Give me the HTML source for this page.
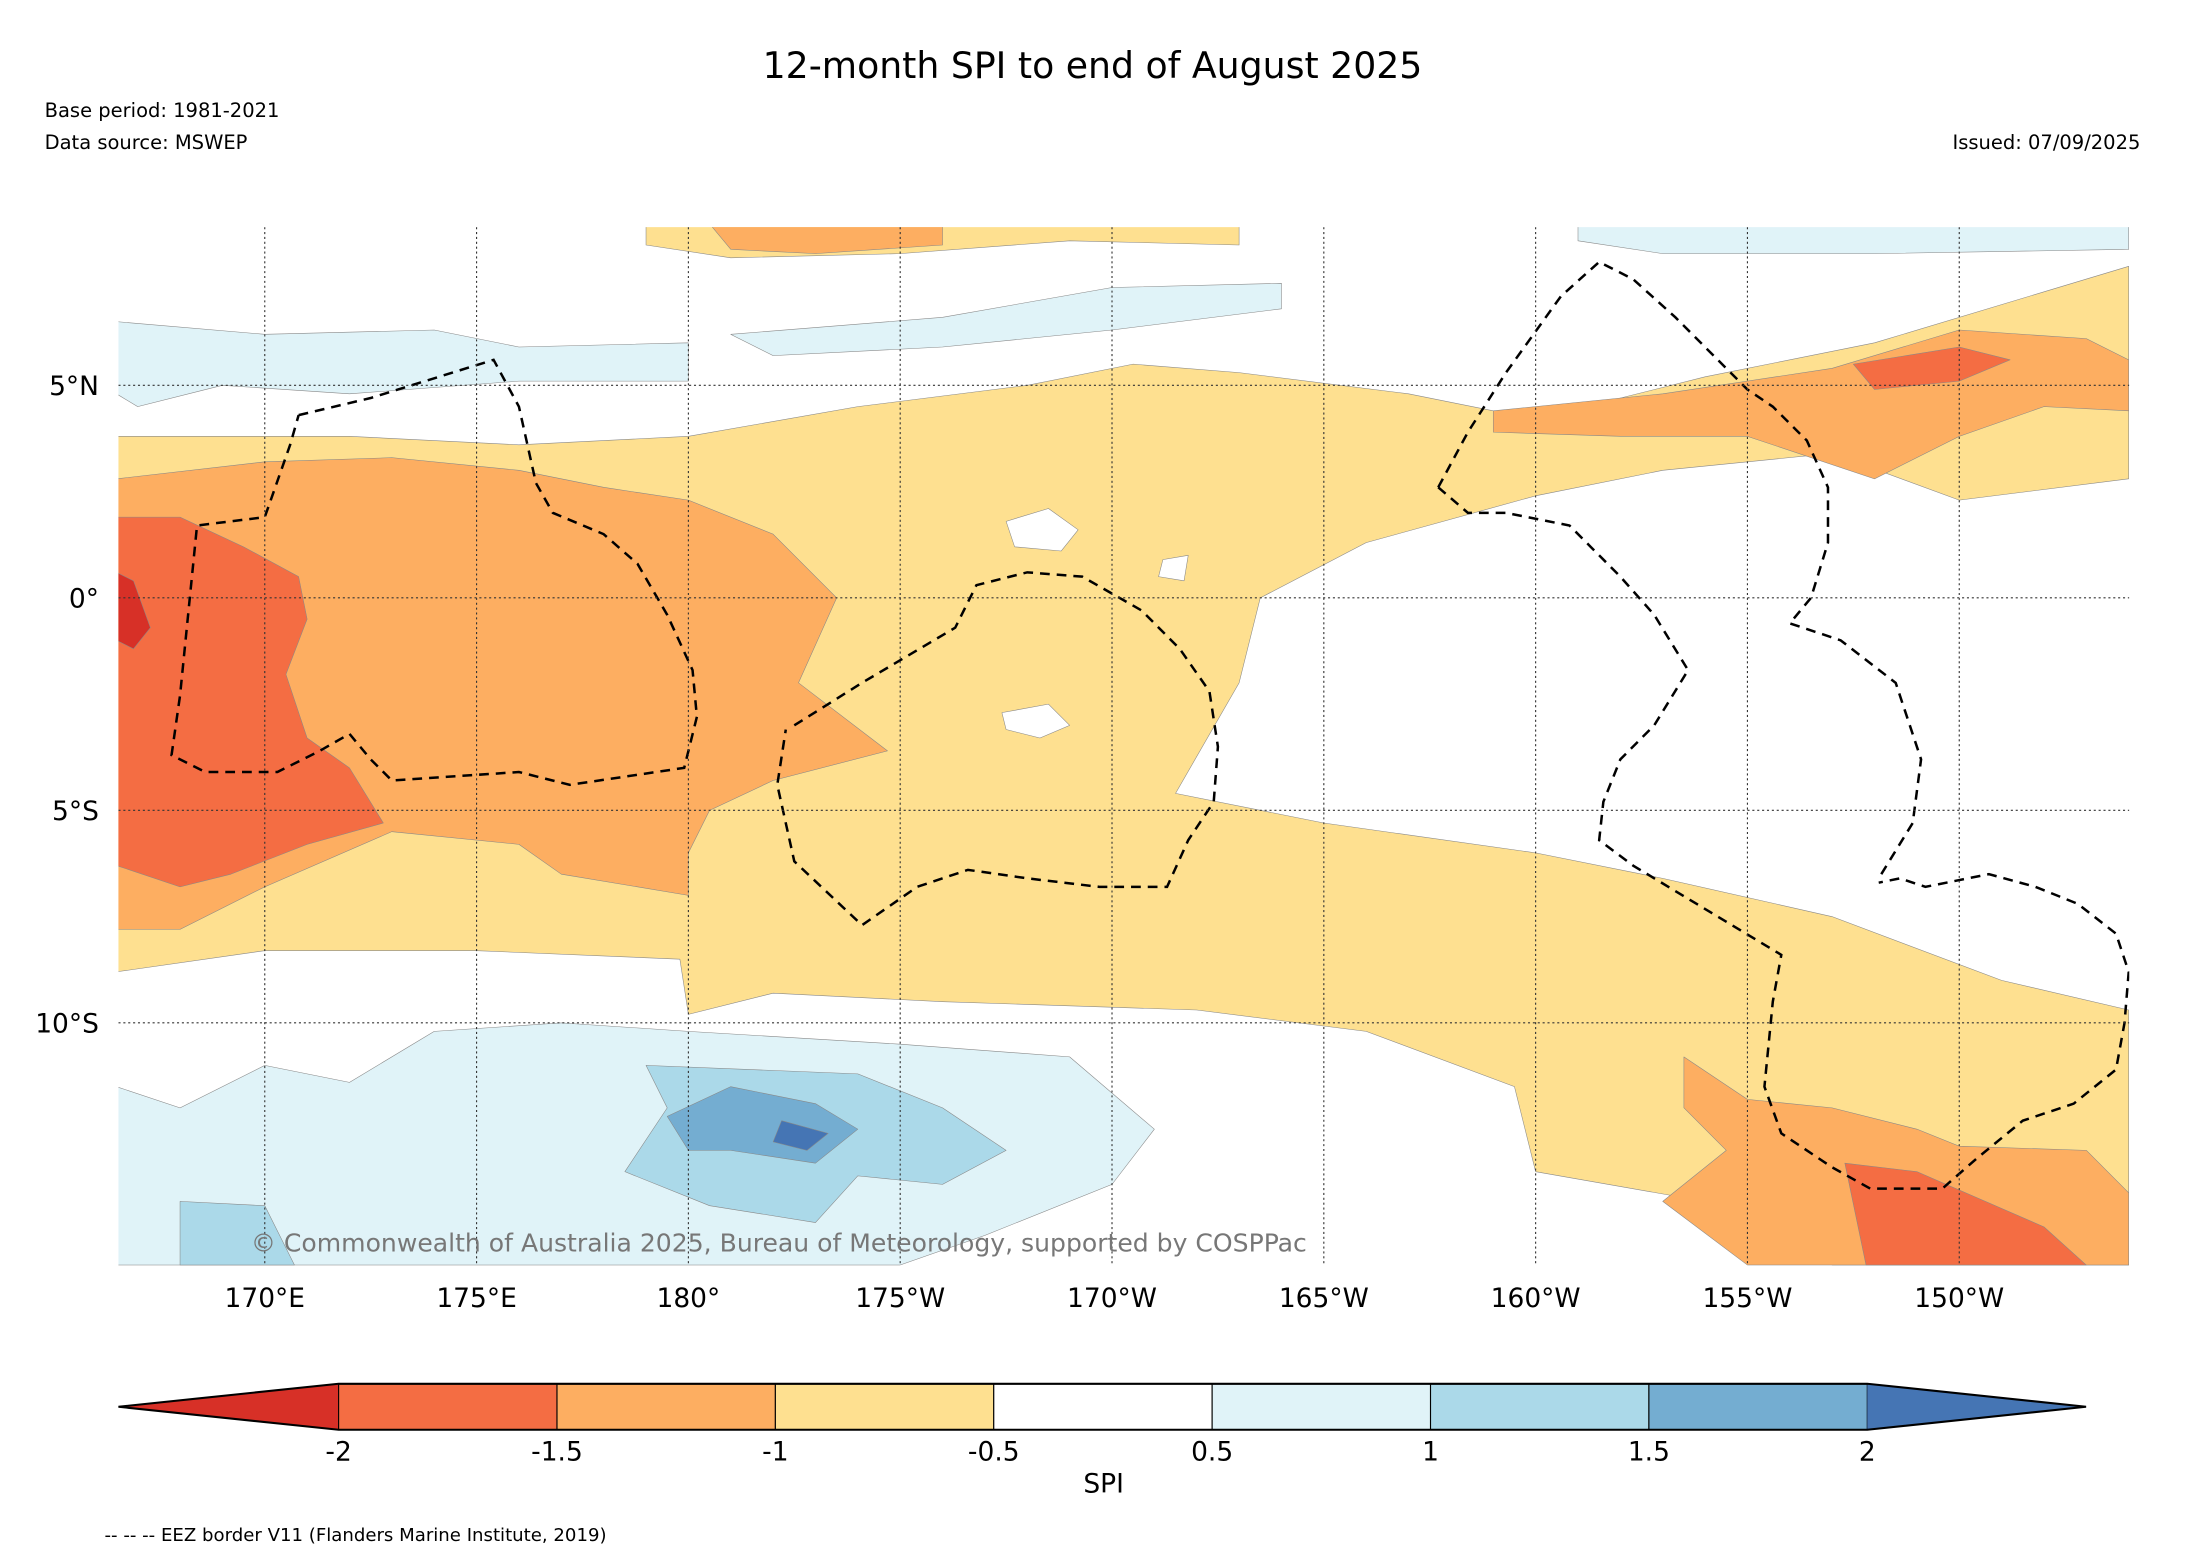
<!DOCTYPE html>
<html><head><meta charset="utf-8"><style>
html,body{margin:0;padding:0;background:#fff;}
svg{display:block;font-family:"DejaVu Sans","Liberation Sans",sans-serif;}
</style></head><body>
<svg id="chart" width="2185" height="1563" viewBox="0 0 1568 1121.6" xmlns="http://www.w3.org/2000/svg">
<rect width="1568" height="1121.6" fill="#fff"/>
<text x="784" y="56" font-size="26" text-anchor="middle">12-month SPI to end of August 2025</text>
<text x="32" y="84" font-size="14">Base period: 1981-2021</text>
<text x="32" y="107" font-size="14">Data source: MSWEP</text>
<text x="1536" y="107" font-size="14" text-anchor="end">Issued: 07/09/2025</text>
<defs><clipPath id="mapclip"><rect x="85" y="163" width="1443" height="745"/></clipPath></defs>
<g id="map" clip-path="url(#mapclip)"></g>
<g id="axes"></g>
<g id="cbar"></g>
<text x="792" y="1071" font-size="19" text-anchor="middle">SPI</text>
<text x="75" y="1106" font-size="13">-- -- -- EEZ border V11 (Flanders Marine Institute, 2019)</text>
</svg>
<script>
const levels = [-2, -1.5, -1, -0.5, 0.5, 1, 1.5, 2];
const levelLabels = ["-2","-1.5","-1","-0.5","0.5","1","1.5","2"];
const binColors = ["#d73027","#f46d43","#fdae61","#fee090","#ffffff","#e0f3f8","#abd9e9","#74add1","#4575b4"];
const lonTicks = [170,175,180,185,190,195,200,205,210];
const lonLabels = ["170°E","175°E","180°","175°W","170°W","165°W","160°W","155°W","150°W"];
const latTicks = [5,0,-5,-10];
const latLabels = ["5°N","0°","5°S","10°S"];

const fieldYellow = [[166.5,3.8],[172,3.8],[176,3.6],[180,3.8],[184,4.5],[188,5],[190.5,5.5],[193,5.3],[197,4.8],[200,4.2],[204,5.2],[208,6],[212,7.2],[214,7.8],[214,2.8],[210,2.3],[207,3.4],[203,3],[200,2.4],[196,1.3],[193.5,0],[193,-2],[191.5,-4.6],[195,-5.3],[200,-6],[203,-6.6],[207,-7.5],[211,-9],[214,-9.7],[214,-15.7],[207,-15.7],[204,-14.2],[200,-13.5],[199.5,-11.5],[196,-10.2],[192,-9.7],[186,-9.5],[182,-9.3],[180,-9.8],[179.8,-8.5],[175,-8.3],[170,-8.3],[166.5,-8.8]];
const fieldOrange = [[166.5,2.8],[170,3.2],[173,3.3],[176,3],[178,2.6],[180,2.3],[182,1.5],[183.5,0],[182.6,-2],[184.7,-3.6],[182,-4.3],[180.5,-5],[180,-6],[180,-7],[177,-6.5],[176,-5.8],[173,-5.5],[170,-6.8],[168,-7.8],[166.5,-7.8]];
const fieldRed = [[166.5,1.9],[168,1.9],[169.5,1.2],[170.8,0.5],[171,-0.5],[170.5,-1.8],[171,-3.3],[172,-4],[172.8,-5.3],[171,-5.8],[169.2,-6.5],[168,-6.8],[166.5,-6.3]];
const fieldDarkRed = [[166.5,0.6],[166.9,0.4],[167.3,-0.7],[166.9,-1.2],[166.5,-1]];
const fieldNEOrange = [[199,4.4],[203,4.8],[207,5.4],[210,6.3],[213,6.1],[214,5.6],[214,4.4],[212,4.5],[210,3.8],[208,2.8],[205,3.8],[202,3.8],[199,3.9]];
const fieldNERed = [[207.5,5.5],[210,5.9],[211.2,5.6],[210,5.1],[208,4.9]];
const fieldSEOrange = [[203.5,-10.8],[205,-11.8],[207,-12],[209,-12.5],[210,-12.9],[213,-13],[214,-14],[214,-15.7],[205,-15.7],[203,-14.2],[204.5,-13],[203.5,-12]];
const fieldSERed = [[207.3,-13.3],[209,-13.5],[212,-14.8],[213,-15.7],[207.8,-15.7]];
const fieldTopYellow = [[179,8.8],[193,8.8],[193,8.3],[189,8.4],[185,8.1],[181,8.0],[179,8.3]];
const fieldTopOrange = [[180.5,8.8],[186,8.8],[186,8.3],[183,8.1],[181,8.2]];
const fieldBlueN1 = [[166.5,6.5],[170,6.2],[174,6.3],[176,5.9],[180,6.0],[180,5.1],[176,5.1],[172,4.8],[169,5],[167,4.5],[166.5,4.8]];
const fieldBlueN2 = [[181,6.2],[186,6.6],[190,7.3],[194,7.4],[194,6.8],[190,6.3],[186,5.9],[182,5.7]];
const fieldBlueN3 = [[201,8.8],[214,8.8],[214,8.2],[208,8.1],[203,8.1],[201,8.4]];
const fieldBlueS = [[166.5,-11.5],[168,-12],[170,-11],[172,-11.4],[174,-10.2],[177,-10],[180,-10.2],[185,-10.5],[189,-10.8],[191,-12.5],[190,-13.8],[187,-15],[185,-15.7],[166.5,-15.7]];
const fieldMedBlue = [[179,-11],[184,-11.2],[186,-12],[187.5,-13],[186,-13.8],[184,-13.6],[183,-14.7],[180.5,-14.3],[178.5,-13.5],[179.5,-12]];
const fieldBlueDark = [[179.5,-12.2],[181,-11.5],[183,-11.9],[184,-12.5],[183,-13.3],[181,-13],[180,-13]];
const fieldBlueDeep = [[182.2,-12.3],[183.3,-12.6],[182.8,-13],[182,-12.8]];
const fieldSWMed = [[168,-14.2],[170,-14.3],[170.7,-15.7],[168,-15.7]];
const fieldWhiteA = [[187.5,1.8],[188.5,2.1],[189.2,1.6],[188.8,1.1],[187.7,1.2]];
const fieldWhiteB = [[187.4,-2.7],[188.5,-2.5],[189,-3],[188.3,-3.3],[187.5,-3.1]];
const fieldWhiteC = [[191.2,0.9],[191.8,1.0],[191.7,0.4],[191.1,0.5]];
const fieldSouthYellow1 = [[171.2,-12.4],[174,-12.2],[174.5,-13.4],[171.5,-13.7]];
const fieldSouthYellow2 = [[175,-12.8],[177.5,-12.7],[177.3,-14],[175,-14.3]];
const regions = [
 [3,fieldYellow],[3,fieldTopYellow],[3,fieldSouthYellow1],[3,fieldSouthYellow2],
 [2,fieldOrange],[1,fieldRed],[0,fieldDarkRed],[2,fieldNEOrange],[1,fieldNERed],
 [2,fieldSEOrange],[1,fieldSERed],[2,fieldTopOrange],
 [5,fieldBlueN1],[5,fieldBlueN2],[5,fieldBlueN3],[5,fieldBlueS],[6,fieldMedBlue],
 [7,fieldBlueDark],[8,fieldBlueDeep],[6,fieldSWMed],
 [4,fieldWhiteA],[4,fieldWhiteB],[4,fieldWhiteC]
];
const eez = [
 [[170.8,4.3],[172.5,4.7],[175.4,5.6],[176,4.5],[176.4,2.7],[176.8,2],[178,1.5],[178.8,0.8],[179.5,-0.4],[180.1,-1.7],[180.2,-2.8],[179.9,-4],[177.2,-4.4],[176,-4.1],[173,-4.3],[172.5,-3.8],[172,-3.2],[171.3,-3.6],[170.3,-4.1],[168.6,-4.1],[167.8,-3.7],[168,-2.3],[168.4,1.7],[170,1.9],[170.6,3.6],[170.8,4.3]],
 [[182.5,-3],[184.1,-2],[186.3,-0.7],[186.8,0.3],[188,0.6],[189.3,0.5],[190.7,-0.3],[191.6,-1.2],[192.3,-2.2],[192.5,-3.5],[192.4,-4.8],[191.8,-5.7],[191.3,-6.8],[189.7,-6.8],[188,-6.6],[186.6,-6.4],[185.4,-6.8],[184.1,-7.7],[182.5,-6.2],[182.1,-4.4],[182.3,-3.1]],
 [[197.7,2.6],[198.4,3.9],[199.3,5.3],[200.6,7.1],[201.5,7.9],[202.3,7.5],[203.3,6.6],[204.5,5.4],[205,4.9],[205.6,4.5],[206.4,3.7],[206.9,2.6],[206.9,1.3],[206.5,0],[206,-0.6],[207.2,-1],[208.5,-2],[209.1,-3.8],[208.9,-5.3],[208.1,-6.6]],
 [[197.7,2.6],[198.4,2],[199.3,2],[200.8,1.7],[201.3,1.2],[202,0.5],[202.8,-0.4],[203.6,-1.7],[202.8,-3],[202,-3.8],[201.6,-4.8],[201.5,-5.7],[202.3,-6.3],[203.8,-7.2],[205.8,-8.4],[205.6,-9.5],[205.5,-10.5],[205.4,-11.5],[205.8,-12.6],[207,-13.4],[207.9,-13.9],[209.6,-13.9],[210.4,-13.2],[211.5,-12.3],[212.7,-11.9],[213.7,-11.1],[213.9,-10],[214,-8.8],[213.7,-7.9],[212.8,-7.2],[211.8,-6.8],[210.7,-6.5],[209.2,-6.8],[208.6,-6.6],[208.1,-6.7]]
];

const NS="http://www.w3.org/2000/svg";
const X = lon => 190 + (lon-170)*30.4;
const Y = lat => 429 - lat*30.5;
function el(tag, attrs, parent){const e=document.createElementNS(NS,tag);for(const k in attrs)e.setAttribute(k,attrs[k]);parent.appendChild(e);return e;}
const map=document.getElementById('map'), axes=document.getElementById('axes'), cbar=document.getElementById('cbar');

el('rect',{x:85,y:163,width:1443,height:745,fill:'#fff'},map);
regions.forEach(r=>{
  const p=el('polygon',{points:r[1].map(q=>X(q[0]).toFixed(1)+','+Y(q[1]).toFixed(1)).join(' '),fill:binColors[r[0]],stroke:'#888','stroke-width':0.4,'stroke-linejoin':'round'},map);
  
  
});
eez.forEach(line=>{
  const p=el('polyline',{points:line.map(q=>X(q[0]).toFixed(1)+','+Y(q[1]).toFixed(1)).join(' '),fill:'none',stroke:'#000','stroke-width':1.8,'stroke-dasharray':'7,5'},map);
  
  
});
lonTicks.forEach((lon,i)=>{
  const g=el('line',{x1:X(lon),x2:X(lon),y1:163,y2:908,stroke:'#333','stroke-width':0.8,'stroke-dasharray':'1.5,2'},map);
  
  
  const t=el('text',{x:X(lon),y:938,'font-size':19,'text-anchor':'middle'},axes);
  t.textContent=lonLabels[i];
  
  
});
latTicks.forEach((lat,i)=>{
  const g=el('line',{x1:85,x2:1528,y1:Y(lat),y2:Y(lat),stroke:'#333','stroke-width':0.8,'stroke-dasharray':'1.5,2'},map);
  
  
  const t=el('text',{x:71,y:Y(lat)+7,'font-size':19,'text-anchor':'end'},axes);
  t.textContent=latLabels[i];
  
  
});
const cp=el('text',{x:180,y:898,'font-size':18,fill:'#777'},map);
cp.textContent='© Commonwealth of Australia 2025, Bureau of Meteorology, supported by COSPPac';



// colorbar: equal-width bins (boundary index based)
const cx0=243, cx1=1340, cy0=993, cy1=1026;
const CXi = i => cx0 + i/(levels.length-1)*(cx1-cx0);
const lt=el('polygon',{points:`85,${(cy0+cy1)/2} ${cx0},${cy0} ${cx0},${cy1}`,fill:binColors[0]},cbar);


for(let i=0;i<levels.length-1;i++){
  const r=el('rect',{x:CXi(i),y:cy0,width:CXi(i+1)-CXi(i),height:cy1-cy0,fill:binColors[i+1],stroke:'#000','stroke-width':0.8},cbar);
  
  
}
const rt=el('polygon',{points:`1497,${(cy0+cy1)/2} ${cx1},${cy0} ${cx1},${cy1}`,fill:binColors[8]},cbar);


el('polygon',{points:`85,${(cy0+cy1)/2} ${cx0},${cy0} ${cx1},${cy0} 1497,${(cy0+cy1)/2} ${cx1},${cy1} ${cx0},${cy1}`,fill:'none',stroke:'#000','stroke-width':1.5},cbar);
levels.forEach((v,i)=>{
  const t=el('text',{x:CXi(i),y:1048,'font-size':19,'text-anchor':'middle'},cbar);
  t.textContent=levelLabels[i];
  
  
});
</script>
</body></html>
